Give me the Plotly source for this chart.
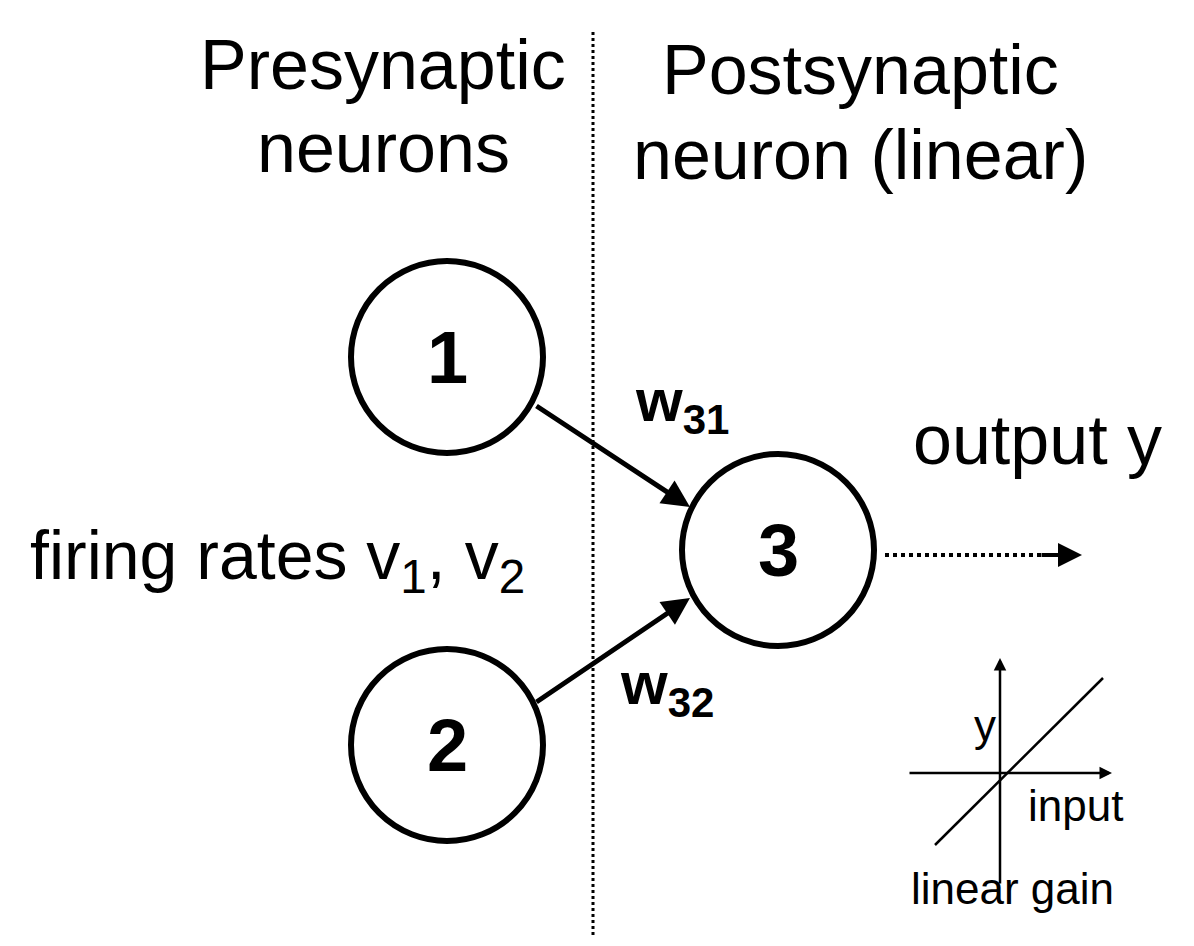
import plotly.graph_objects as go

# node labels and centers (pixel space of the diagram)
node_labels = ["1", "2", "3"]
node_x = [447, 447, 778]
node_y = [357, 745, 550]
node_r = 96

weight_labels = ["w<sub>31</sub>", "w<sub>32</sub>"]

fig = go.Figure()
fig.add_trace(go.Scatter(x=[0, 1194], y=[0, 946], mode="markers",
                         marker=dict(opacity=0), hoverinfo="skip", showlegend=False))

F = "Liberation Sans, Arial, sans-serif"
shapes = []
ann = []

# dotted divider
shapes.append(dict(type="line", x0=593, x1=593, y0=32, y1=935,
                   line=dict(color="black", width=3, dash="dot")))

# neuron circles
for lab, cx, cy in zip(node_labels, node_x, node_y):
    shapes.append(dict(type="circle", x0=cx - node_r, x1=cx + node_r,
                       y0=cy - node_r, y1=cy + node_r,
                       line=dict(color="black", width=6)))
    ann.append(dict(x=cx, y=cy, text="<b>%s</b>" % lab, showarrow=False,
                    font=dict(size=74, family=F, color="black")))

# connection arrows
for (x0, y0, x1, y1) in [(535, 405, 690, 507), (535, 703, 690, 598)]:
    ann.append(dict(x=x1, y=y1, ax=x0, ay=y0, xref="x", yref="y", axref="x", ayref="y",
                    text="", showarrow=True, arrowhead=2, arrowsize=1.1, arrowwidth=5,
                    arrowcolor="black"))

ann.append(dict(x=682, y=405, text="<b>%s</b>" % weight_labels[0], showarrow=False,
                font=dict(size=60, family=F, color="black")))
ann.append(dict(x=667, y=688, text="<b>%s</b>" % weight_labels[1], showarrow=False,
                font=dict(size=60, family=F, color="black")))

# output dotted arrow
shapes.append(dict(type="line", x0=885, x1=1045, y0=555, y1=555,
                   line=dict(color="black", width=4, dash="dot")))
ann.append(dict(x=1082, y=555, ax=1040, ay=555, xref="x", yref="y", axref="x", ayref="y",
                text="", showarrow=True, arrowhead=2, arrowsize=1.2, arrowwidth=4,
                arrowcolor="black"))

# text labels
texts = [
    (383, 65, "Presynaptic", 70), (383, 148, "neurons", 70),
    (860, 70, "Postsynaptic", 70), (860, 155, "neuron (linear)", 70),
    (1037, 440, "output y", 70), (277, 560, "firing rates v<sub>1</sub>, v<sub>2</sub>", 68),
    (985, 725, "y", 44), (1075, 805, "input", 44), (1012, 888, "linear gain", 44),
]
for x, y, t, s in texts:
    ann.append(dict(x=x, y=y, text=t, showarrow=False,
                    font=dict(size=s, family=F, color="black")))

# small gain plot
ann.append(dict(x=1112, y=773, ax=908, ay=773, xref="x", yref="y", axref="x", ayref="y",
                text="", showarrow=True, arrowhead=2, arrowsize=1, arrowwidth=2.5, arrowcolor="black"))
ann.append(dict(x=1000, y=658, ax=1000, ay=885, xref="x", yref="y", axref="x", ayref="y",
                text="", showarrow=True, arrowhead=2, arrowsize=1, arrowwidth=2.5, arrowcolor="black"))
shapes.append(dict(type="line", x0=935, y0=845, x1=1103, y1=678,
                   line=dict(color="black", width=2.5)))

# ranges shifted to offset the page's default body margin
fig.update_layout(width=1194, height=946, margin=dict(l=0, r=0, t=0, b=0),
                  plot_bgcolor="white", paper_bgcolor="white",
                  xaxis=dict(range=[8, 1202], visible=False, fixedrange=True),
                  yaxis=dict(range=[954, 8], visible=False, fixedrange=True),
                  shapes=shapes, annotations=ann, showlegend=False)

fig.write_html("out.html")
